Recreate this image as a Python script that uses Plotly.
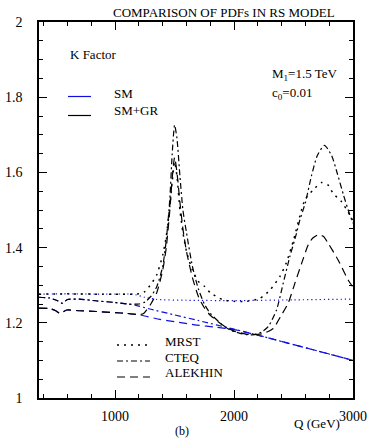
import plotly.graph_objects as go

# ---- K factor versus dilepton invariant mass Q (GeV) ----
# SM only (blue)
q_sm_mrst = [360, 600, 900, 1150, 1250, 1350, 1600, 2000, 2500, 3000]
k_sm_mrst = [1.276, 1.277, 1.276, 1.276, 1.268, 1.262, 1.260, 1.259, 1.261, 1.263]

q_sm_cteq = [360, 450, 520, 555, 600, 700, 850, 1000, 1100, 1167, 1300, 1500, 1700,
             2000, 2200, 2500, 2800, 3000]
k_sm_cteq = [1.268, 1.266, 1.258, 1.252, 1.262, 1.263, 1.258, 1.254, 1.250, 1.247,
             1.236, 1.221, 1.206, 1.183, 1.167, 1.142, 1.117, 1.100]

q_sm_alek = [360, 450, 500, 536, 593, 700, 845, 1000, 1097, 1209, 1377, 1500, 1685,
             1850, 2000, 2200, 2500, 2800, 3000]
k_sm_alek = [1.239, 1.238, 1.232, 1.225, 1.234, 1.232, 1.230, 1.227, 1.225, 1.221,
             1.209, 1.203, 1.194, 1.188, 1.182, 1.167, 1.142, 1.117, 1.100]

# SM + graviton resonances (black)
q_gr_mrst = [360, 600, 900, 1100, 1200, 1250, 1307, 1349, 1400, 1430, 1460, 1480, 1500,
             1520, 1545, 1570, 1600, 1650, 1700, 1755, 1800, 1900, 2000, 2100, 2217,
             2301, 2385, 2440, 2500, 2567, 2600, 2679, 2735, 2791, 2833, 2904, 2973, 3000]
k_gr_mrst = [1.276, 1.277, 1.276, 1.276, 1.277, 1.283, 1.305, 1.327, 1.380, 1.430, 1.510,
             1.575, 1.628, 1.590, 1.500, 1.440, 1.390, 1.340, 1.310, 1.296, 1.280, 1.262,
             1.257, 1.257, 1.265, 1.287, 1.323, 1.360, 1.420, 1.500, 1.530, 1.558, 1.573,
             1.566, 1.544, 1.522, 1.487, 1.470]

q_gr_cteq = [360, 450, 520, 555, 600, 700, 850, 1000, 1100, 1200, 1250, 1300, 1350, 1400,
             1430, 1460, 1480, 1500, 1520, 1545, 1570, 1600, 1650, 1700, 1750, 1800, 1900,
             1965, 2050, 2150, 2230, 2287, 2357, 2413, 2469, 2525, 2553, 2600, 2650, 2700,
             2760, 2820, 2870, 2920, 2970, 3000]
k_gr_cteq = [1.268, 1.266, 1.258, 1.252, 1.262, 1.263, 1.258, 1.254, 1.250, 1.250, 1.255,
             1.270, 1.296, 1.350, 1.420, 1.530, 1.650, 1.726, 1.690, 1.590, 1.500, 1.440,
             1.350, 1.290, 1.250, 1.225, 1.195, 1.181, 1.172, 1.168, 1.175, 1.190, 1.234,
             1.305, 1.376, 1.438, 1.473, 1.520, 1.590, 1.645, 1.672, 1.645, 1.595, 1.540,
             1.490, 1.465]

q_gr_alek = [360, 450, 500, 536, 593, 700, 845, 1000, 1097, 1200, 1240, 1300, 1350, 1400,
             1430, 1460, 1480, 1500, 1520, 1545, 1570, 1600, 1650, 1700, 1750, 1800, 1900,
             2000, 2100, 2150, 2250, 2329, 2399, 2455, 2511, 2568, 2623, 2660, 2707, 2750,
             2792, 2875, 2959, 3000]
k_gr_alek = [1.239, 1.238, 1.232, 1.225, 1.234, 1.232, 1.230, 1.227, 1.225, 1.222, 1.225,
             1.250, 1.280, 1.340, 1.400, 1.500, 1.585, 1.640, 1.600, 1.520, 1.450, 1.390,
             1.320, 1.270, 1.240, 1.220, 1.195, 1.178, 1.170, 1.168, 1.172, 1.185, 1.221,
             1.252, 1.305, 1.358, 1.407, 1.425, 1.434, 1.430, 1.411, 1.367, 1.314, 1.295]

BLUE = "#1010e0"
BLACK = "#000000"
DOT_GR = "2px,5px"
DOT_SM = "1.2px,3px"
DASHDOT = "6px,3px,2px,3px"
DASH = "8px,5px"

fig = go.Figure()


def add(q, k, color, dash, width):
    fig.add_trace(go.Scatter(x=q, y=k, mode="lines", showlegend=False,
                             line=dict(color=color, dash=dash, width=width,
                                       shape="spline", smoothing=0.6)))


# SM curves underneath
add(q_sm_mrst, k_sm_mrst, BLUE, DOT_SM, 1.2)
add(q_sm_cteq, k_sm_cteq, BLUE, DASHDOT, 1.2)
add(q_sm_alek, k_sm_alek, BLUE, DASH, 1.2)
# SM + GR curves on top
add(q_gr_mrst, k_gr_mrst, BLACK, DOT_GR, 1.5)
add(q_gr_cteq, k_gr_cteq, BLACK, DASHDOT, 1.2)
add(q_gr_alek, k_gr_alek, BLACK, DASH, 1.2)

FONT = "Liberation Serif"
fs = 13

# Plot area in pixels
L, R, T, B = 39, 353, 22, 398
W, H = 370, 438


def px(x):
    return (x - L) / (R - L)


def py(y):
    return (B - y) / (B - T)


shapes = []
annots = []


def seg(x0, x1, y, color, dash, width):
    shapes.append(dict(type="line", xref="paper", yref="paper",
                       x0=px(x0), x1=px(x1), y0=py(y), y1=py(y),
                       line=dict(color=color, dash=dash, width=width)))


def text(x, y, s, anchor="left", size=fs):
    annots.append(dict(xref="paper", yref="paper", x=px(x), y=py(y), text=s,
                       showarrow=False, xanchor=anchor, yanchor="middle",
                       font=dict(family=FONT, size=size, color="black")))


# colour key
text(68, 55, "K Factor")
seg(68, 91, 96.5, BLUE, "solid", 1.2)
seg(68, 91, 115.5, BLACK, "solid", 1.2)
text(112, 93, "SM")
text(112, 111, "SM+GR")
# parameters
text(270, 74, "M<sub>1</sub>=1.5 TeV")
text(270, 93, "c<sub>0</sub>=0.01")
# line-style key
seg(117, 150, 345, BLACK, DOT_GR, 1.5)
seg(117, 150, 361, BLACK, DASHDOT, 1.2)
seg(117, 150, 377, BLACK, DASH, 1.2)
text(163, 341.5, "MRST")
text(163, 357, "CTEQ")
text(163, 372.5, "ALEKHIN")
# titles
text(224, 13, "COMPARISON OF PDFs IN RS MODEL", anchor="center")
text(317, 424, "Q (GeV)", anchor="center")
text(182, 430.5, "(b)", anchor="center", size=12)

fig.update_layout(
    width=W, height=H,
    margin=dict(l=L, r=W - R, t=T, b=H - B),
    paper_bgcolor="white", plot_bgcolor="white",
    shapes=shapes, annotations=annots,
    font=dict(family=FONT, size=fs, color="black"),
    showlegend=False,
)
fig.update_xaxes(
    range=[360, 3000], tickvals=[1000, 2000, 3000], ticktext=["1000", "2000", "3000"],
    ticks="inside", ticklen=8, tickwidth=1, tickcolor="black",
    minor=dict(ticks="inside", tick0=0, dtick=200, ticklen=4, tickcolor="black"),
    showline=True, linecolor="black", linewidth=1.5, mirror="allticks",
    showgrid=False, zeroline=False, tickfont=dict(family=FONT, size=14),
    ticklabelstandoff=4, automargin=False,
)
fig.update_yaxes(
    range=[1, 2], tickvals=[1, 1.2, 1.4, 1.6, 1.8, 2],
    ticktext=["1", "1.2", "1.4", "1.6", "1.8", "2"],
    ticks="inside", ticklen=8, tickwidth=1, tickcolor="black",
    minor=dict(ticks="inside", tick0=1, dtick=0.05, ticklen=4, tickcolor="black"),
    showline=True, linecolor="black", linewidth=1.5, mirror="allticks",
    showgrid=False, zeroline=False, tickfont=dict(family=FONT, size=14),
    ticklabelstandoff=12, automargin=False,
)

fig.write_html("out.html")
